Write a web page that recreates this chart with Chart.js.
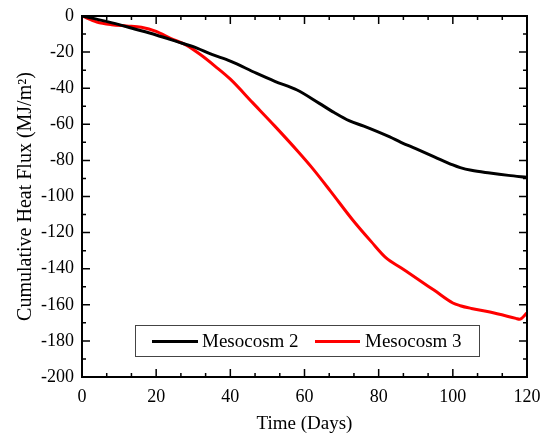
<!DOCTYPE html>
<html>
<head>
<meta charset="utf-8">
<script src="https://cdn.jsdelivr.net/npm/chart.js@4"></script>
<style>
  html, body { margin: 0; padding: 0; background: #fff; }
  #wrap { width: 547px; height: 434px; }
</style>
</head>
<body>
<div id="wrap"><canvas id="heat-chart" width="547" height="434"></canvas></div>
<script>
// Data
const meso2Days = [0, 5, 10, 13.5, 20, 27, 30, 35, 40, 47, 52, 58, 64, 68, 72, 76, 83, 86, 90, 95, 100, 102, 105, 110, 115, 120];
const meso2Flux = [0, -2.3, -4.8, -6.8, -10.5, -15.1, -17, -21.3, -25, -31.7, -36.2, -41, -48.4, -53.5, -58, -61, -67, -70, -73.5, -78, -82.5, -84, -85.5, -87, -88.3, -89.4];

const meso3Days = [0, 4, 8, 12, 16, 20, 24, 28, 32, 36, 40, 46, 52, 58, 62, 67, 73, 78, 82, 86, 90, 95, 100, 102, 105, 110, 117, 118, 120];
const meso3Flux = [0, -3.3, -4.8, -5.5, -6.2, -8.5, -12.5, -16, -21.5, -28, -35, -48, -61, -74.5, -84, -97, -113, -125, -134, -139.5, -145, -152, -159, -160.5, -162, -164, -167.5, -168, -164.5];

const seriesLabels = ['Mesocosm 2', 'Mesocosm 3'];
const seriesColors = ['#000000', '#ff0000'];

const xTicks = [0, 20, 40, 60, 80, 100, 120];
const yTicks = [0, -20, -40, -60, -80, -100, -120, -140, -160, -180, -200];

const serif = "'Liberation Serif', 'Times New Roman', serif";

function toPoints(xs, ys) {
    return xs.map((x, i) => ({ x: x, y: ys[i] }));
}

// Box with inward ticks on all four sides
const framePlugin = {
    id: 'frame',
    afterDatasetsDraw(chart) {
        const { ctx, chartArea: a, scales } = chart;
        const x = scales.x, y = scales.y;
        ctx.save();
        ctx.strokeStyle = '#000';
        ctx.lineWidth = 2;
        ctx.strokeRect(a.left, a.top, a.right - a.left, a.bottom - a.top);
        ctx.lineWidth = 1.5;
        ctx.beginPath();
        for (let i = 0; i <= 18; i++) {
            const px = x.getPixelForValue(i * 20 / 3);
            const len = i % 3 === 0 ? 8 : 4;
            ctx.moveTo(px, a.bottom); ctx.lineTo(px, a.bottom - len);
            ctx.moveTo(px, a.top); ctx.lineTo(px, a.top + len);
        }
        for (let i = 0; i <= 20; i++) {
            const py = y.getPixelForValue(-10 * i);
            const len = i % 2 === 0 ? 8 : 4;
            ctx.moveTo(a.left, py); ctx.lineTo(a.left + len, py);
            ctx.moveTo(a.right, py); ctx.lineTo(a.right - len, py);
        }
        ctx.stroke();
        ctx.restore();
    }
};

// Legend box inside the plot, like the original
const legendPlugin = {
    id: 'boxLegend',
    afterDraw(chart) {
        const { ctx } = chart;
        const bx = 135, by = 325, bw = 344, bh = 31;
        ctx.save();
        ctx.fillStyle = '#fff';
        ctx.fillRect(bx, by, bw, bh);
        ctx.strokeStyle = '#444';
        ctx.lineWidth = 1;
        ctx.strokeRect(bx + 0.5, by + 0.5, bw, bh);
        const cy = by + bh / 2 + 1;
        const items = [{ x1: 152, x2: 198, tx: 202 }, { x1: 315, x2: 360, tx: 365 }];
        ctx.font = '19px ' + serif;
        ctx.textBaseline = 'middle';
        chart.data.datasets.forEach((ds, i) => {
            const it = items[i];
            ctx.strokeStyle = ds.borderColor;
            ctx.lineWidth = 3;
            ctx.beginPath();
            ctx.moveTo(it.x1, cy); ctx.lineTo(it.x2, cy);
            ctx.stroke();
            ctx.fillStyle = '#000';
            ctx.fillText(ds.label, it.tx, cy + 1);
        });
        ctx.restore();
    }
};

const ctx = document.getElementById('heat-chart').getContext('2d');
const heatChart = new Chart(ctx, {
    type: 'line',
    data: {
        datasets: [
            {
                label: seriesLabels[0],
                data: toPoints(meso2Days, meso2Flux),
                borderColor: seriesColors[0],
                borderWidth: 3,
                pointRadius: 0,
                cubicInterpolationMode: 'monotone'
            },
            {
                label: seriesLabels[1],
                data: toPoints(meso3Days, meso3Flux),
                borderColor: seriesColors[1],
                borderWidth: 3,
                pointRadius: 0,
                cubicInterpolationMode: 'monotone'
            }
        ]
    },
    options: {
        responsive: false,
        animation: false,
        layout: { padding: { top: 16, right: 20, left: 0, bottom: 0 } },
        plugins: {
            legend: { display: false },
            tooltip: { enabled: false }
        },
        scales: {
            x: {
                type: 'linear',
                min: 0,
                max: 120,
                afterBuildTicks: (scale) => { scale.ticks = xTicks.map(v => ({ value: v })); },
                afterFit: (scale) => {
                    scale.height = 57;
                    scale.paddingLeft = 0;
                    scale.paddingRight = 0;
                },
                grid: { display: false, drawTicks: false },
                border: { display: false },
                ticks: {
                    color: '#000',
                    padding: 9,
                    maxRotation: 0,
                    font: { family: serif, size: 18 }
                },
                title: {
                    display: true,
                    text: 'Time (Days)',
                    color: '#000',
                    padding: { top: 0, bottom: 0 },
                    font: { family: serif, size: 19, lineHeight: 1.1 }
                }
            },
            y: {
                type: 'linear',
                min: -200,
                max: 0,
                afterBuildTicks: (scale) => { scale.ticks = yTicks.map(v => ({ value: v })); },
                afterFit: (scale) => {
                    scale.width = 82;
                    scale.paddingTop = 0;
                    scale.paddingBottom = 0;
                },
                grid: { display: false, drawTicks: false },
                border: { display: false },
                ticks: {
                    color: '#000',
                    padding: 8,
                    font: { family: serif, size: 18 }
                },
                title: {
                    display: true,
                    text: 'Cumulative Heat Flux (MJ/m²)',
                    color: '#000',
                    padding: { top: 15, bottom: 0 },
                    font: { family: serif, size: 20, lineHeight: 1.1 }
                }
            }
        }
    },
    plugins: [framePlugin, legendPlugin]
});
</script>
</body>
</html>
